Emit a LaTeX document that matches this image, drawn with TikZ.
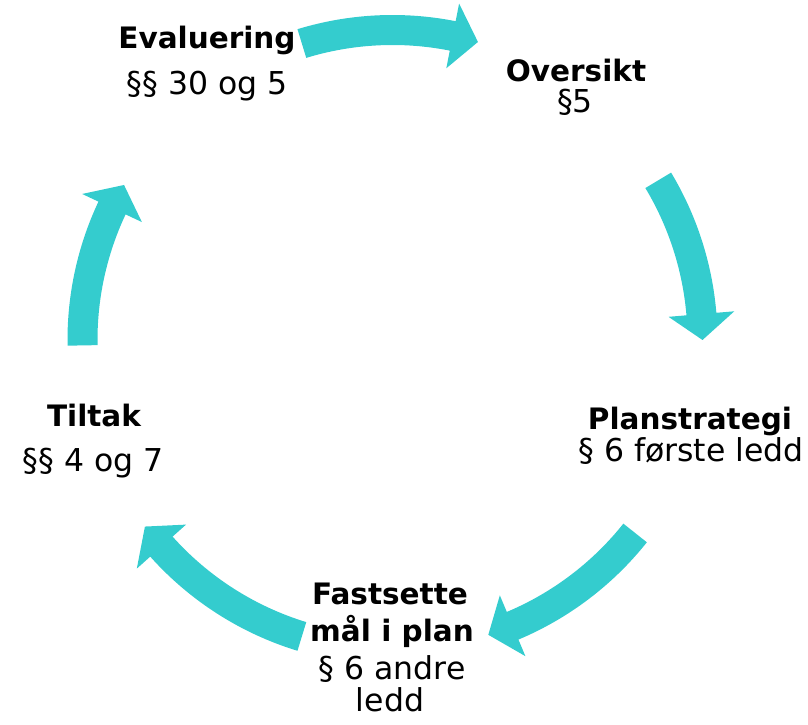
\documentclass[tikz,border=0pt]{standalone}
\usepackage{fontspec}
\setmainfont{DejaVu Sans}
\definecolor{cyclecol}{RGB}{52,204,206}
\begin{document}
\begin{tikzpicture}[x=1pt,y=1pt,
  cyclearrow/.style={fill=cyclecol,draw=none},
  titletext/.style={anchor=base,inner sep=0pt,font=\fontsize{29.5}{35}\selectfont\bfseries},
  reftext/.style={anchor=base,inner sep=0pt,font=\fontsize{31.5}{37}\selectfont}]
\useasboundingbox (0,0) rectangle (808,725);
\coordinate (C) at (392.5,385);
% five curved arrows on a circle, clockwise: tail angle / tip angle
\foreach \aone/\atwo in {107/74, 31/0, -38.5/-72, -107/-143, 181/150}{
  \pgfmathsetmacro{\ab}{\atwo+4.8}
  \fill[cyclearrow,shift={(C)}]
    (\aone:325) arc[start angle=\aone,end angle=\ab,radius=325]
    -- (\ab:343) -- (\atwo:310) -- (\ab:277) -- (\ab:295)
    arc[start angle=\ab,end angle=\aone,radius=295] -- cycle;
}
\node[titletext] (evtitle) at (207,676) {Evaluering};
\node[reftext]   (evref)   at (207,630) {§§ 30 og 5};
\node[titletext] (ovtitle) at (576,643) {Oversikt};
\node[reftext]   (ovref)   at (575,612) {§5};
\node[titletext] (pltitle) at (690,295) {Planstrategi};
\node[reftext]   (plref)   at (691,263) {§ 6 første ledd};
\node[titletext] (fatitle) at (390,120) {Fastsette};
\node[titletext] (fatitleb) at (392,83) {mål i plan};
\node[reftext]   (faref)   at (392,45) {§ 6 andre};
\node[reftext]   (farefb)  at (390,13) {ledd};
\node[titletext] (tititle) at (94,298) {Tiltak};
\node[reftext]   (tiref)   at (93,253) {§§ 4 og 7};
\end{tikzpicture}
\end{document}
